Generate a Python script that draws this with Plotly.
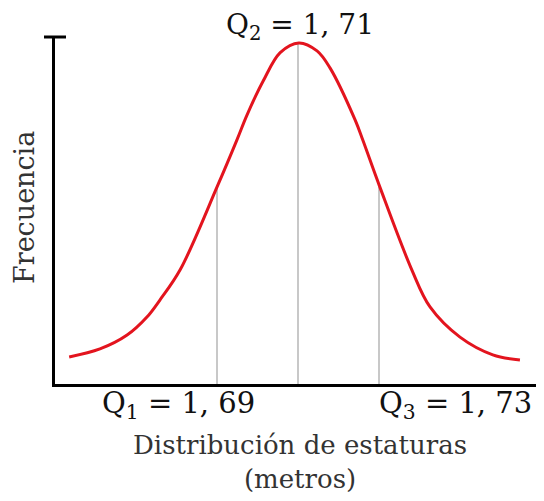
import plotly.graph_objects as go

# Curve points (height in metres, relative frequency)
heights = [1.6535, 1.6611, 1.6678, 1.6727, 1.6759, 1.6809, 1.6902, 1.6949, 1.6974,
           1.7014, 1.7056, 1.7102, 1.7147, 1.7179, 1.7241, 1.7260, 1.7302, 1.7381,
           1.7426, 1.7500, 1.7581, 1.7648]
freqs = [0.078, 0.101, 0.141, 0.193, 0.242, 0.329, 0.573, 0.703, 0.775,
         0.873, 0.955, 0.983, 0.960, 0.911, 0.761, 0.703, 0.568, 0.329,
         0.222, 0.135, 0.084, 0.069]

quart_names = ["Q<sub>1</sub>", "Q<sub>2</sub>", "Q<sub>3</sub>"]
quart_vals = [1.69, 1.71, 1.73]
quart_labels = ["1, 69", "1, 71", "1, 73"]
quart_heights = [0.573, 0.983, 0.568]

x_range = [1.65, 1.77]
y_range = [0, 1]

FONT = "DejaVu Serif, Liberation Serif, serif"

fig = go.Figure()

for q, h in zip(quart_vals, quart_heights):
    fig.add_trace(go.Scatter(x=[q, q], y=[0, h], mode="lines",
                             line=dict(color="#c8c8c8", width=2),
                             hoverinfo="skip", showlegend=False))

fig.add_trace(go.Scatter(x=heights, y=freqs, mode="lines",
                         line=dict(color="#e3141e", width=3, shape="spline", smoothing=1.0),
                         showlegend=False))

# page has an 8px body margin; compensate so the plot sits where the reference has it
OFF = 8
W, H = 544 - OFF, 501 - OFF
PL, PR, PT, PB = 55, 541, 37, 384  # plot-area edges in reference pixels
L, T = PL - OFF, PT - OFF
R = W - (PR - OFF)
B = H - (PB - OFF)
pw, ph = PR - PL, PB - PT


def px(xp):
    return (xp - PL) / pw


def py(yp):
    return (PB - yp) / ph


annotations = [
    dict(x=px(300), y=py(26), text=f"{quart_names[1]} = {quart_labels[1]}", size=28),
    dict(x=px(178), y=py(405), text=f"{quart_names[0]} = {quart_labels[0]}", size=29),
    dict(x=px(455), y=py(405), text=f"{quart_names[2]} = {quart_labels[2]}", size=29),
]
for a in annotations:
    s = a.pop("size")
    a.update(xref="paper", yref="paper", showarrow=False, xanchor="center", yanchor="middle",
             borderpad=0, font=dict(family=FONT, size=s, color="#111"))

annotations.append(dict(x=px(300), y=py(462), xref="paper", yref="paper", showarrow=False,
                        text="Distribución de estaturas<br>(metros)", xanchor="center",
                        yanchor="middle", font=dict(family=FONT, size=26, color="#333")))
annotations.append(dict(x=px(24), y=py(208), xref="paper", yref="paper", showarrow=False,
                        text="Frecuencia", textangle=-90, xanchor="center", yanchor="middle",
                        font=dict(family=FONT, size=27, color="#333")))

shapes = [
    dict(type="line", xref="paper", yref="paper", x0=px(44), x1=px(66), y0=1, y1=1,
         line=dict(color="black", width=3)),
    dict(type="line", xref="paper", yref="paper", x0=1, x1=1, y0=py(376), y1=py(390),
         line=dict(color="black", width=2)),
]

fig.update_layout(
    width=W, height=H,
    margin=dict(l=L, r=R, t=T, b=B),
    paper_bgcolor="white", plot_bgcolor="white",
    xaxis=dict(range=x_range, showgrid=False, zeroline=False, showticklabels=False,
               ticks="", showline=True, linecolor="black", linewidth=3),
    yaxis=dict(range=y_range, showgrid=False, zeroline=False, showticklabels=False,
               ticks="", showline=True, linecolor="black", linewidth=3),
    annotations=annotations,
    shapes=shapes,
)

fig.write_html("out.html")
